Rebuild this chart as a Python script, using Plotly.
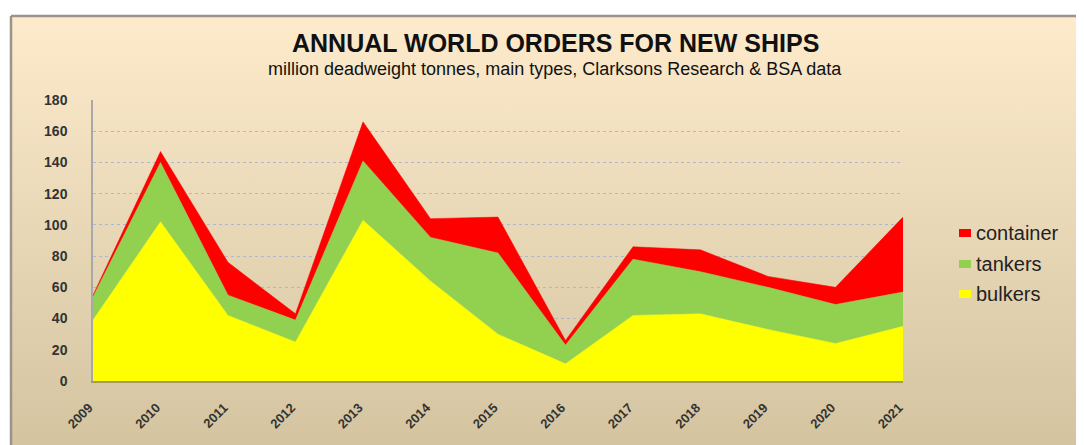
"""Roczne zamówienia nowych statków - wykres warstwowy (stacked area)."""

import base64

import plotly.graph_objects as go

years = [2009, 2010, 2011, 2012, 2013, 2014, 2015, 2016, 2017, 2018, 2019, 2020, 2021]
bulkers = [39, 102, 42, 25, 103, 64, 30, 11, 42, 43, 33, 24, 35]
tankers = [15, 38, 13, 14, 38, 28, 52, 12, 36, 27, 27, 25, 22]
container = [1, 7, 21, 4, 25, 12, 23, 3, 8, 14, 7, 11, 48]
y_ticks = [0, 20, 40, 60, 80, 100, 120, 140, 160, 180]

# Strona ma 8px marginesu body, więc figura jest mniejsza
W, H = 1076, 437
PL, PT, PW, PH = 85, 92, 810, 281  # obszar wykresu w pikselach figury


def px(x_page):
    """Pozycja x strony -> współrzędne paper."""
    return (x_page - 8 - PL) / PW


def py(y_page):
    """Pozycja y strony -> współrzędne paper."""
    return 1 - (y_page - 8 - PT) / PH


# Tło: gradient beżowy jako obrazek SVG
svg = (
    f'<svg xmlns="http://www.w3.org/2000/svg" width="{W}" height="{H}">'
    '<defs><linearGradient id="g" x1="0" y1="0" x2="0" y2="1">'
    '<stop offset="0" stop-color="#fdebcc"/>'
    '<stop offset="1" stop-color="#d3c39f"/>'
    '</linearGradient></defs>'
    f'<rect x="0" y="0" width="{W}" height="{H}" fill="white"/>'
    f'<rect x="3" y="8" width="{W}" height="{H}" fill="url(#g)"/>'
    f'<line x1="3" y1="8" x2="{W}" y2="8" stroke="#9a948a" stroke-width="2.5"/>'
    f'<line x1="3" y1="8" x2="3" y2="{H}" stroke="#9a948a" stroke-width="2.5"/>'
    '</svg>'
)
bg_src = "data:image/svg+xml;base64," + base64.b64encode(svg.encode()).decode()

fig = go.Figure()

series = [
    ("bulkers", bulkers, "#ffff00"),
    ("tankers", tankers, "#92d050"),
    ("container", container, "#ff0000"),
]
for name, vals, color in series:
    fig.add_trace(
        go.Scatter(
            x=years,
            y=vals,
            name=name,
            mode="lines",
            stackgroup="one",
            line=dict(width=0.5, color=color),
            fillcolor=color,
            showlegend=False,
        )
    )

# Legenda rysowana ręcznie (małe kwadraty + tekst)
legend_y = {"container": 233, "tankers": 264, "bulkers": 294}
shapes = []
annotations = []
for name, vals, color in series:
    yc = legend_y[name]
    shapes.append(
        dict(
            type="rect", xref="paper", yref="paper",
            x0=px(959), x1=px(971), y0=py(yc + 4), y1=py(yc - 4),
            fillcolor=color, line=dict(width=0),
        )
    )
    annotations.append(
        dict(
            text=name, xref="paper", yref="paper",
            x=px(974), y=py(yc), xanchor="left", yanchor="middle",
            showarrow=False,
            font=dict(family="Liberation Sans, Arial", size=20, color="#222222"),
        )
    )

annotations += [
    dict(
        text="<b>ANNUAL WORLD ORDERS FOR NEW SHIPS</b>",
        xref="paper", yref="paper",
        x=px(555), y=py(43), xanchor="center", yanchor="middle",
        showarrow=False,
        font=dict(family="Liberation Sans, Arial", size=25, color="#111111"),
    ),
    dict(
        text="million deadweight tonnes, main types, Clarksons Research & BSA data",
        xref="paper", yref="paper",
        x=px(555), y=py(69), xanchor="center", yanchor="middle",
        showarrow=False,
        font=dict(family="Liberation Sans, Arial", size=18, color="#111111"),
    ),
]

fig.update_layout(
    width=W,
    height=H,
    margin=dict(l=PL, r=W - PL - PW, t=PT, b=H - PT - PH),
    paper_bgcolor="rgba(0,0,0,0)",
    plot_bgcolor="white",
    showlegend=False,
    images=[
        dict(
            source=bg_src,
            xref="paper", yref="paper",
            x=-PL / PW, y=1 + PT / PH,
            sizex=W / PW, sizey=H / PH,
            xanchor="left", yanchor="top",
            sizing="stretch",
            layer="below",
        )
    ],
    shapes=shapes,
    annotations=annotations,
    xaxis=dict(
        range=[2009, 2021],
        tickvals=years,
        ticktext=[f"<b>{y}</b>" for y in years],
        tickangle=-45,
        showgrid=False,
        showline=True,
        linecolor="#a39a60",
        linewidth=2,
        ticks="",
        ticklabelstandoff=12,
        ticklabelshift=-4,
        tickfont=dict(family="Liberation Sans, Arial", size=13, color="#333333"),
    ),
    yaxis=dict(
        range=[0, 180],
        tickvals=y_ticks,
        ticktext=[f"<b>{t}</b>" for t in y_ticks],
        showgrid=True,
        gridcolor="#a9b8d8",
        griddash="dot",
        gridwidth=1.2,
        showline=True,
        linecolor="#a8a8a8",
        linewidth=1.5,
        zeroline=False,
        ticks="",
        ticklabelstandoff=21,
        tickfont=dict(family="Liberation Sans, Arial", size=14, color="#333333"),
    ),
)

fig.write_html("out.html")
